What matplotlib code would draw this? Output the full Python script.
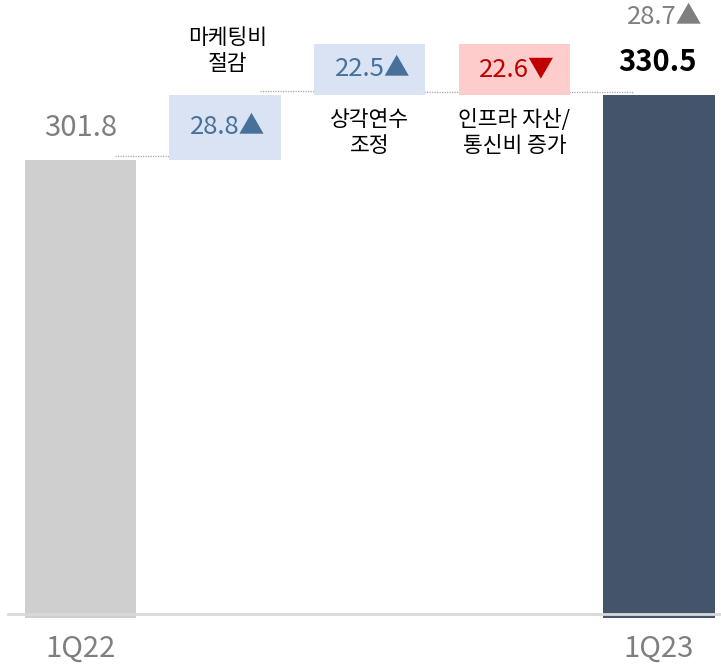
import numpy as np
import matplotlib
matplotlib.use('Agg')
import matplotlib.pyplot as plt
import matplotlib.transforms as mtransforms

plt.rcParams['font.family'] = ['Noto Sans CJK KR', 'DejaVu Sans']

# data
start_label = '1Q22'
end_label = '1Q23'
start_value = 301.8
end_value = 330.5
yoy_change = 28.7
change_names = ['마케팅비\n절감', '상각연수\n조정', '인프라 자산/\n통신비 증가']
change_values = [28.8, 22.5, -22.6]

# colors
start_color = '#D0CFD0'
end_color = '#44546A'
up_face, up_text = '#DAE3F3', '#47709B'
down_face, down_text = '#FFCCCC', '#C00000'
grey_text = '#7F7F7F'

fig = plt.figure(figsize=(7.21, 6.64), dpi=100)
ax = fig.add_axes([0, 50 / 664, 1, 614 / 664])

base = 100.9
ax.set_ylim(base, base + 614 / 2.26)
ax.set_xlim(-0.557, 4.429)

width = 0.77
n = len(change_values)
x_start, x_end = 0, n + 1
xs_change = np.arange(1, n + 1)

# start / end bars (drawn a touch below the baseline like the original)
ax.bar(x_start, start_value - base + 1.8, bottom=base - 1.8, width=width,
       color=start_color, clip_on=False, zorder=2)
ax.bar(x_end, end_value - base + 1.8, bottom=base - 1.8, width=width,
       color=end_color, clip_on=False, zorder=2)

# floating boxes
levels = start_value + np.concatenate([[0], np.cumsum(change_values)])
bottoms = np.minimum(levels[:-1], levels[1:])
heights = np.abs(change_values)
faces = [up_face if v > 0 else down_face for v in change_values]
ax.bar(xs_change, heights, bottom=bottoms, width=width, color=faces, zorder=2)

for x, b, h, v in zip(xs_change, bottoms, heights, change_values):
    mark = '▲' if v > 0 else '▼'
    col = up_text if v > 0 else down_text
    ax.text(x + 0.02, b + h / 2, f'{abs(v):.1f}{mark}', ha='center', va='center',
            fontsize=18.5, color=col, zorder=3)

# category names: first above its box, the rest below
for i, (x, b, h, name) in enumerate(zip(xs_change, bottoms, heights, change_names)):
    if i == 0:
        ax.annotate(name, (x + 0.02, b + h), xytext=(0, 14), textcoords='offset points',
                    ha='center', va='bottom', fontsize=15.5, linespacing=1.25)
    else:
        ax.annotate(name, (x, b), xytext=(0, -10), textcoords='offset points',
                    ha='center', va='top', fontsize=15.5, linespacing=1.25)

# dotted connectors
conn_levels = list(bottoms) + [end_value]
trans = mtransforms.offset_copy(ax.transData, fig=fig, x=0, y=2.5, units='points')
for i, lv in enumerate(conn_levels):
    ax.plot([i + 0.24, i + 0.82], [lv, lv], color='#A6A6A6', lw=0.9,
            linestyle=(0, (1, 1)), transform=trans, zorder=1)

# totals
ax.annotate(f'{start_value:.1f}', (x_start, start_value), xytext=(0, 23),
            textcoords='offset points', ha='center', va='center',
            fontsize=21, color=grey_text)
ax.annotate(f'{end_value:.1f}', (x_end, end_value), xytext=(-1, 24),
            textcoords='offset points', ha='center', va='center',
            fontsize=21, fontweight='bold', color='black')
ax.annotate(f'{yoy_change:.1f}▲', (x_end, end_value), xytext=(4, 56),
            textcoords='offset points', ha='center', va='center',
            fontsize=18.5, color=grey_text)

# axis styling
for s in ['top', 'right', 'left']:
    ax.spines[s].set_visible(False)
ax.spines['bottom'].set_color('#D9D9D9')
ax.spines['bottom'].set_linewidth(2)
ax.spines['bottom'].set_bounds(-0.5, 4.429)
ax.set_yticks([])
ax.set_xticks([x_start, x_end])
ax.set_xticklabels([start_label, end_label], fontsize=21, color=grey_text,
                   fontweight='light')
ax.tick_params(axis='x', length=0, pad=14)

fig.savefig('out.png', dpi=100)
